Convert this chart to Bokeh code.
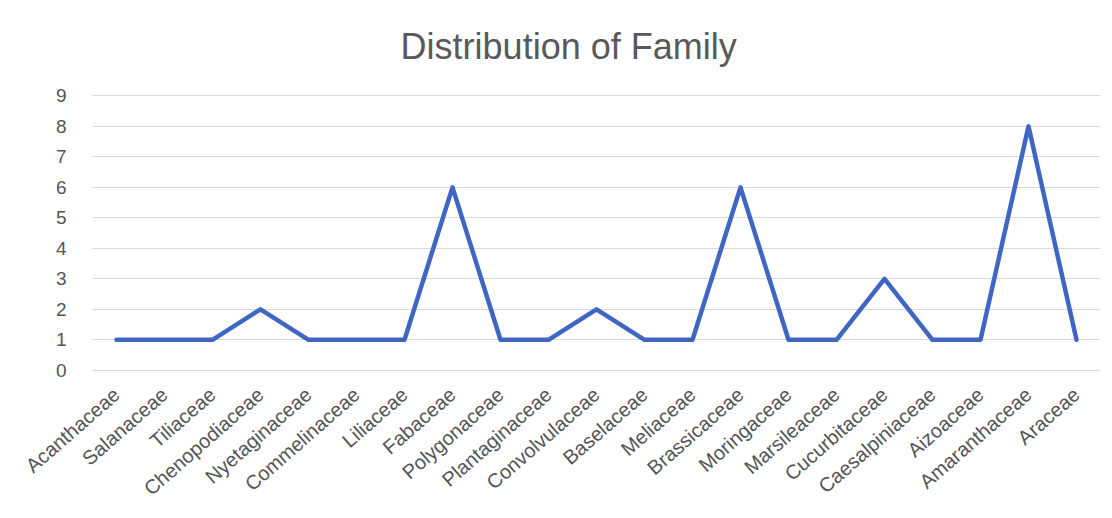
from bokeh.plotting import figure
from bokeh.models import Range1d, FixedTicker, Label
from bokeh.embed import file_html
from bokeh.resources import INLINE

families = ["Acanthaceae", "Salanaceae", "Tiliaceae", "Chenopodiaceae", "Nyetaginaceae",
            "Commelinaceae", "Liliaceae", "Fabaceae", "Polygonaceae", "Plantaginaceae",
            "Convolvulaceae", "Baselaceae", "Meliaceae", "Brassicaceae", "Moringaceae",
            "Marsileaceae", "Cucurbitaceae", "Caesalpiniaceae", "Aizoaceae",
            "Amaranthaceae", "Araceae"]
counts = [1, 1, 1, 2, 1, 1, 1, 6, 1, 1, 2, 1, 1, 6, 1, 1, 3, 1, 1, 8, 1]
y_ticks = [0, 1, 2, 3, 4, 5, 6, 7, 8, 9]
title_text = "Distribution of Family"

# frame spans from 10px to 375px; value 9.04 sits near 97px, leaving head room for the title
p = figure(x_range=families, y_range=Range1d(-0.04, 11.80), width=1104, height=510,
           output_backend="svg", toolbar_location=None,
           min_border_left=92, min_border_right=4, min_border_top=10, min_border_bottom=135)

p.line(families, counts, line_color="#3F66C3", line_width=4.5,
       line_join="round", line_cap="round")

p.add_layout(Label(x=9.92, y=10.62, text=title_text, text_align="center",
                   text_baseline="alphabetic", text_font="Liberation Sans",
                   text_font_size="36px", text_color="#595959"))

p.outline_line_color = None
p.background_fill_color = "white"
p.border_fill_color = "white"

p.xgrid.grid_line_color = None
p.ygrid.grid_line_color = "#d9d9d9"
p.ygrid.grid_line_width = 1
p.yaxis.ticker = FixedTicker(ticks=y_ticks)

for ax in (p.xaxis, p.yaxis):
    ax.axis_line_color = None
    ax.major_tick_line_color = None
    ax.minor_tick_line_color = None
    ax.major_label_text_font = "Liberation Sans"
    ax.major_label_text_color = "#555555"

p.yaxis.major_label_text_font_size = "19px"
p.yaxis.major_label_standoff = 20
p.xaxis.major_label_text_font_size = "20px"
p.xaxis.major_label_orientation = 0.72
p.xaxis.major_label_standoff = 14

open("out.html", "w").write(file_html(p, INLINE))
